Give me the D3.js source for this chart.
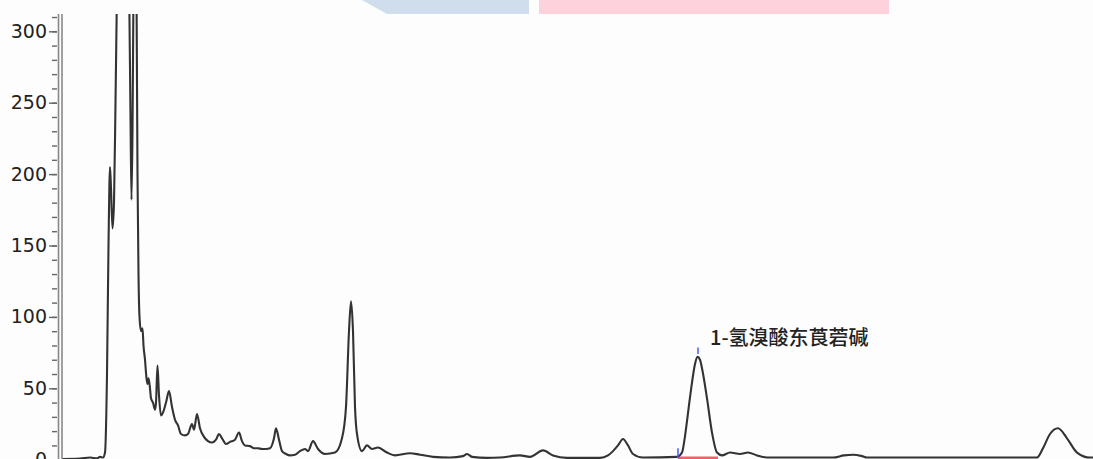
<!DOCTYPE html>
<html>
<head>
<meta charset="utf-8">
<script src="https://cdn.jsdelivr.net/npm/d3@7"></script>
<style>
  html, body { margin: 0; padding: 0; background: #fdfdfd; }
  svg { display: block; }
</style>
</head>
<body>
<svg id="chart" width="1093" height="459"></svg>
<script>
'use strict';

// retention time (min) and detector response
var times = [
  0, 0.36, 0.56, 0.70, 0.76, 0.82, 0.86, 0.90, 0.93, 0.96, 0.98, 1.01, 1.04, 1.07,
  1.10, 1.14, 1.20, 1.28, 1.34, 1.37, 1.39, 1.41, 1.43, 1.46, 1.49, 1.51, 1.53, 1.55,
  1.58, 1.61, 1.63, 1.66, 1.69, 1.71, 1.73, 1.76, 1.78, 1.82, 1.86, 1.88, 1.91, 1.94,
  1.98, 2.02, 2.08, 2.14, 2.20, 2.26, 2.32, 2.38, 2.46, 2.52, 2.60, 2.64, 2.70, 2.76,
  2.84, 2.92, 3.00, 3.08, 3.14, 3.20, 3.28, 3.36, 3.46, 3.54, 3.60, 3.66, 3.76, 3.84,
  3.92, 4.00, 4.08, 4.16, 4.24, 4.28, 4.34, 4.40, 4.48, 4.56, 4.66, 4.76, 4.86, 4.92,
  5.02, 5.12, 5.26, 5.46, 5.60, 5.68, 5.74, 5.78, 5.82, 5.86, 5.90, 6.00, 6.10, 6.20,
  6.32, 6.50, 6.66, 6.96, 7.16, 7.42, 7.76, 8.02, 8.10, 8.20, 8.50, 8.76, 9.16, 9.36,
  9.62, 9.82, 10.10, 10.76, 10.92, 11.02, 11.12, 11.22, 11.32, 11.42, 11.62, 12.30,
  12.40, 12.45, 12.50, 12.55, 12.60, 12.66, 12.71, 12.76, 12.80, 12.90, 13.00, 13.10,
  13.20, 13.36, 13.56, 13.72, 13.90, 14.10, 15.42, 15.64, 15.82, 16.00, 16.10, 19.40,
  19.50, 19.62, 19.76, 19.92, 20.10, 20.30, 20.56, 20.62
];
var signal = [
  0.5, 0.8, 1.5, 1, 2, 1.5, 5, 60, 150, 205, 190, 162, 180, 250,
  330, 450, 520, 450, 340, 240, 182, 230, 330, 420, 330, 200, 130, 100,
  90, 92, 80, 70, 57, 53, 57, 50, 43, 40, 35, 40, 66, 45,
  31, 33, 40, 48, 37, 28, 24, 18, 17, 18, 25, 21, 32, 22,
  16, 13, 12, 14, 18, 15, 11, 12.5, 14, 19, 13, 10, 9.5, 8,
  8, 7.5, 7.5, 8, 15, 22, 14, 6, 4, 3, 3.5, 6, 7.5, 6,
  13, 7.5, 4, 5, 15, 37, 90, 111, 90, 37, 18, 6, 10, 7.5,
  8.5, 5, 3, 4.5, 3.5, 2, 1.5, 2.5, 4, 2, 1.3, 1.5, 3, 2,
  6.5, 3, 1.3, 1.3, 3, 6, 10, 14.5, 10, 4, 1.5, 2,
  5, 14, 27, 41, 54, 67, 72, 70, 64, 43, 19, 5,
  3, 5, 4, 5, 3, 1.5, 1.5, 3, 3.5, 2.5, 1.5, 1.5,
  1.5, 8, 18, 22, 15, 5, 1.5, 1.5
];

var yTicks = [0, 50, 100, 150, 200, 250, 300];
var yMinorTicks = d3.range(0, 311, 10);

// integrated peak
var peakName = '1-氢溴酸东莨菪碱';
var peakTime = 12.72;
var peakStart = 12.32;
var peakEnd = 13.12;

var width = 1093, height = 459;
var plotLeft = 62, plotTop = 14;

var x = d3.scaleLinear().domain([0, 20.62]).range([plotLeft, width]);
var y = d3.scaleLinear().domain([0, 300]).range([459.7, 31.3]);

var svg = d3.select('#chart');

// banner strips at the top edge
svg.append('path')
  .attr('d', 'M362,0L529,0L529,14L387,14Z')
  .attr('fill', '#d0ddec');
svg.append('rect')
  .attr('x', 539).attr('y', 0).attr('width', 350).attr('height', 14)
  .attr('fill', '#fdd2dc');

svg.append('clipPath').attr('id', 'clip')
  .append('rect')
  .attr('x', plotLeft).attr('y', plotTop)
  .attr('width', width - plotLeft).attr('height', height - plotTop);

var plot = svg.append('g').attr('clip-path', 'url(#clip)');

var data = times.map(function (t, i) { return [t, signal[i]]; });

var line = d3.line()
  .x(function (d) { return x(d[0]); })
  .y(function (d) { return y(d[1]); })
  .curve(d3.curveMonotoneX);

// integration baseline under the peak
plot.append('line')
  .attr('x1', x(peakStart)).attr('x2', x(peakEnd))
  .attr('y1', y(1.2)).attr('y2', y(1.2))
  .style('stroke', '#f0606a')
  .style('stroke-width', 3);

plot.append('path')
  .datum(data)
  .attr('d', line)
  .style('fill', 'none')
  .style('stroke', '#333')
  .style('stroke-width', 2.1)
  .style('stroke-linejoin', 'round');

// start and apex markers
plot.append('line')
  .attr('x1', x(peakStart)).attr('x2', x(peakStart))
  .attr('y1', y(1)).attr('y2', y(8))
  .style('stroke', '#4a5cf0').style('stroke-width', 1.5);
plot.append('line')
  .attr('x1', x(peakTime)).attr('x2', x(peakTime))
  .attr('y1', y(74)).attr('y2', y(78.5))
  .style('stroke', '#4a5cf0').style('stroke-width', 1.5);

svg.append('text')
  .attr('x', x(peakTime) + 12)
  .attr('y', y(78) - 3)
  .style('font-family', '"Noto Sans CJK SC", sans-serif')
  .style('font-size', '20px')
  .style('font-weight', 500)
  .style('fill', '#222')
  .text(peakName);

// y axis: minor ticks, major ticks with labels, double spine
var axisX = 57;
var minor = d3.axisLeft(y).tickValues(yMinorTicks).tickSize(5).tickFormat('');
var major = d3.axisLeft(y).tickValues(yTicks).tickSize(8).tickPadding(2);

var gMinor = svg.append('g').attr('transform', 'translate(' + axisX + ',0)').call(minor);
var gMajor = svg.append('g').attr('transform', 'translate(' + axisX + ',0)').call(major);
[gMinor, gMajor].forEach(function (g) {
  g.select('.domain').remove();
  g.selectAll('.tick line').style('stroke', '#666').style('stroke-width', 1.4);
});
gMajor.selectAll('.tick text')
  .style('font-family', '"DejaVu Sans", sans-serif')
  .style('font-size', '19px')
  .style('fill', '#222');

[58.5, 62].forEach(function (xx) {
  svg.append('line')
    .attr('x1', xx).attr('x2', xx)
    .attr('y1', plotTop).attr('y2', height)
    .style('stroke', '#888')
    .style('stroke-width', 1.6);
});
</script>
</body>
</html>
